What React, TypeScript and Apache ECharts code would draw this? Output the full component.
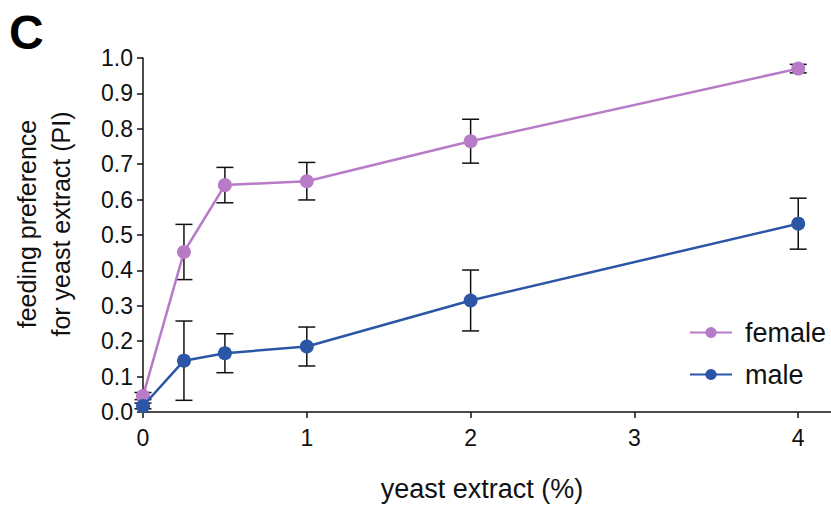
import React, { useEffect, useRef } from "react";
import * as echarts from "echarts";

const xValues = [0, 0.25, 0.5, 1, 2, 4];
const femaleMean = [0.045, 0.452, 0.641, 0.652, 0.765, 0.97];
const femaleErr = [0.01, 0.078, 0.05, 0.053, 0.062, 0.012];
const maleMean = [0.017, 0.145, 0.166, 0.185, 0.315, 0.532];
const maleErr = [0.008, 0.112, 0.055, 0.055, 0.086, 0.072];
const xTicks = [0, 1, 2, 3, 4];
const seriesNames = ["female", "male"];
const colors = ["#b87bc8", "#2b56a6"];
const panelLabel = "C";
const xTitle = "yeast extract (%)";
const yTitle = "feeding preference\nfor yeast extract (PI)";

const FONT = "'Liberation Sans', Arial, Helvetica, sans-serif";

function errData(means: number[], errs: number[]) {
  return xValues.map((x, i) => [x, means[i] - errs[i], means[i] + errs[i]]);
}

function errSeries(name: string, means: number[], errs: number[]) {
  return {
    type: "custom",
    name,
    z: 1,
    silent: true,
    encode: { x: 0, y: [1, 2] },
    data: errData(means, errs),
    renderItem: (params: any, api: any) => {
      const x = api.value(0);
      const lo = api.coord([x, api.value(1)]);
      const hi = api.coord([x, api.value(2)]);
      const w = 8.5;
      const style = { stroke: "#111", lineWidth: 1.5 };
      return {
        type: "group",
        children: [
          { type: "line", shape: { x1: lo[0], y1: lo[1], x2: hi[0], y2: hi[1] }, style },
          { type: "line", shape: { x1: lo[0] - w, y1: lo[1], x2: lo[0] + w, y2: lo[1] }, style },
          { type: "line", shape: { x1: hi[0] - w, y1: hi[1], x2: hi[0] + w, y2: hi[1] }, style },
        ],
      };
    },
  };
}

function lineSeries(name: string, means: number[], color: string, z: number) {
  return {
    type: "line",
    name,
    z,
    data: xValues.map((x, i) => [x, means[i]]),
    symbol: "circle",
    symbolSize: 14,
    lineStyle: { color, width: 2.5 },
    itemStyle: { color },
  };
}

export default function App() {
  const ref = useRef<HTMLDivElement>(null);
  useEffect(() => {
    document.body.style.margin = "0";
    const chart = echarts.init(ref.current!, null, { renderer: "svg" });
    chart.setOption({
      animation: false,
      textStyle: { fontFamily: FONT },
      grid: { left: 143, right: 0, top: 58, bottom: 94 },
      xAxis: {
        type: "value",
        min: 0,
        max: 4.2,
        interval: 1,
        axisLine: { onZero: false, lineStyle: { color: "#111", width: 1.5 } },
        axisTick: { show: true, length: 6, lineStyle: { color: "#111", width: 1.5 }, customValues: xTicks },
        axisLabel: { color: "#111", fontSize: 23, margin: 14, fontFamily: FONT, customValues: xTicks },
        splitLine: { show: false },
      },
      yAxis: {
        type: "value",
        min: 0,
        max: 1,
        interval: 0.1,
        axisLine: { show: true, onZero: false, lineStyle: { color: "#111", width: 1.5 } },
        axisTick: { show: true, length: 6, lineStyle: { color: "#111", width: 1.5 } },
        axisLabel: {
          color: "#111",
          fontSize: 23,
          margin: 10,
          fontFamily: FONT,
          formatter: (v: number) => v.toFixed(1),
        },
        splitLine: { show: false },
      },
      legend: {
        data: seriesNames,
        orient: "vertical",
        left: 684,
        top: 314,
        itemWidth: 42,
        itemHeight: 14,
        itemGap: 15,
        textStyle: { fontSize: 27, color: "#111", fontFamily: FONT, padding: [0, 0, 0, 8] },
      },
      graphic: [
        {
          type: "text",
          left: 9,
          top: 8,
          style: { text: panelLabel, fill: "#000", font: `bold 48px ${FONT}` },
        },
        {
          type: "text",
          x: 44,
          y: 224,
          rotation: Math.PI / 2,
          style: {
            text: yTitle,
            font: `25px ${FONT}`,
            fill: "#111",
            align: "center",
            verticalAlign: "middle",
            lineHeight: 34,
          },
        },
        {
          type: "text",
          x: 482,
          y: 489,
          style: {
            text: xTitle,
            font: `27px ${FONT}`,
            fill: "#111",
            align: "center",
            verticalAlign: "middle",
          },
        },
      ],
      series: [
        errSeries("femaleErr", femaleMean, femaleErr),
        errSeries("maleErr", maleMean, maleErr),
        lineSeries(seriesNames[0], femaleMean, colors[0], 3),
        lineSeries(seriesNames[1], maleMean, colors[1], 4),
      ],
    });
    return () => chart.dispose();
  }, []);
  return <div ref={ref} style={{ width: 831, height: 506 }} />;
}
